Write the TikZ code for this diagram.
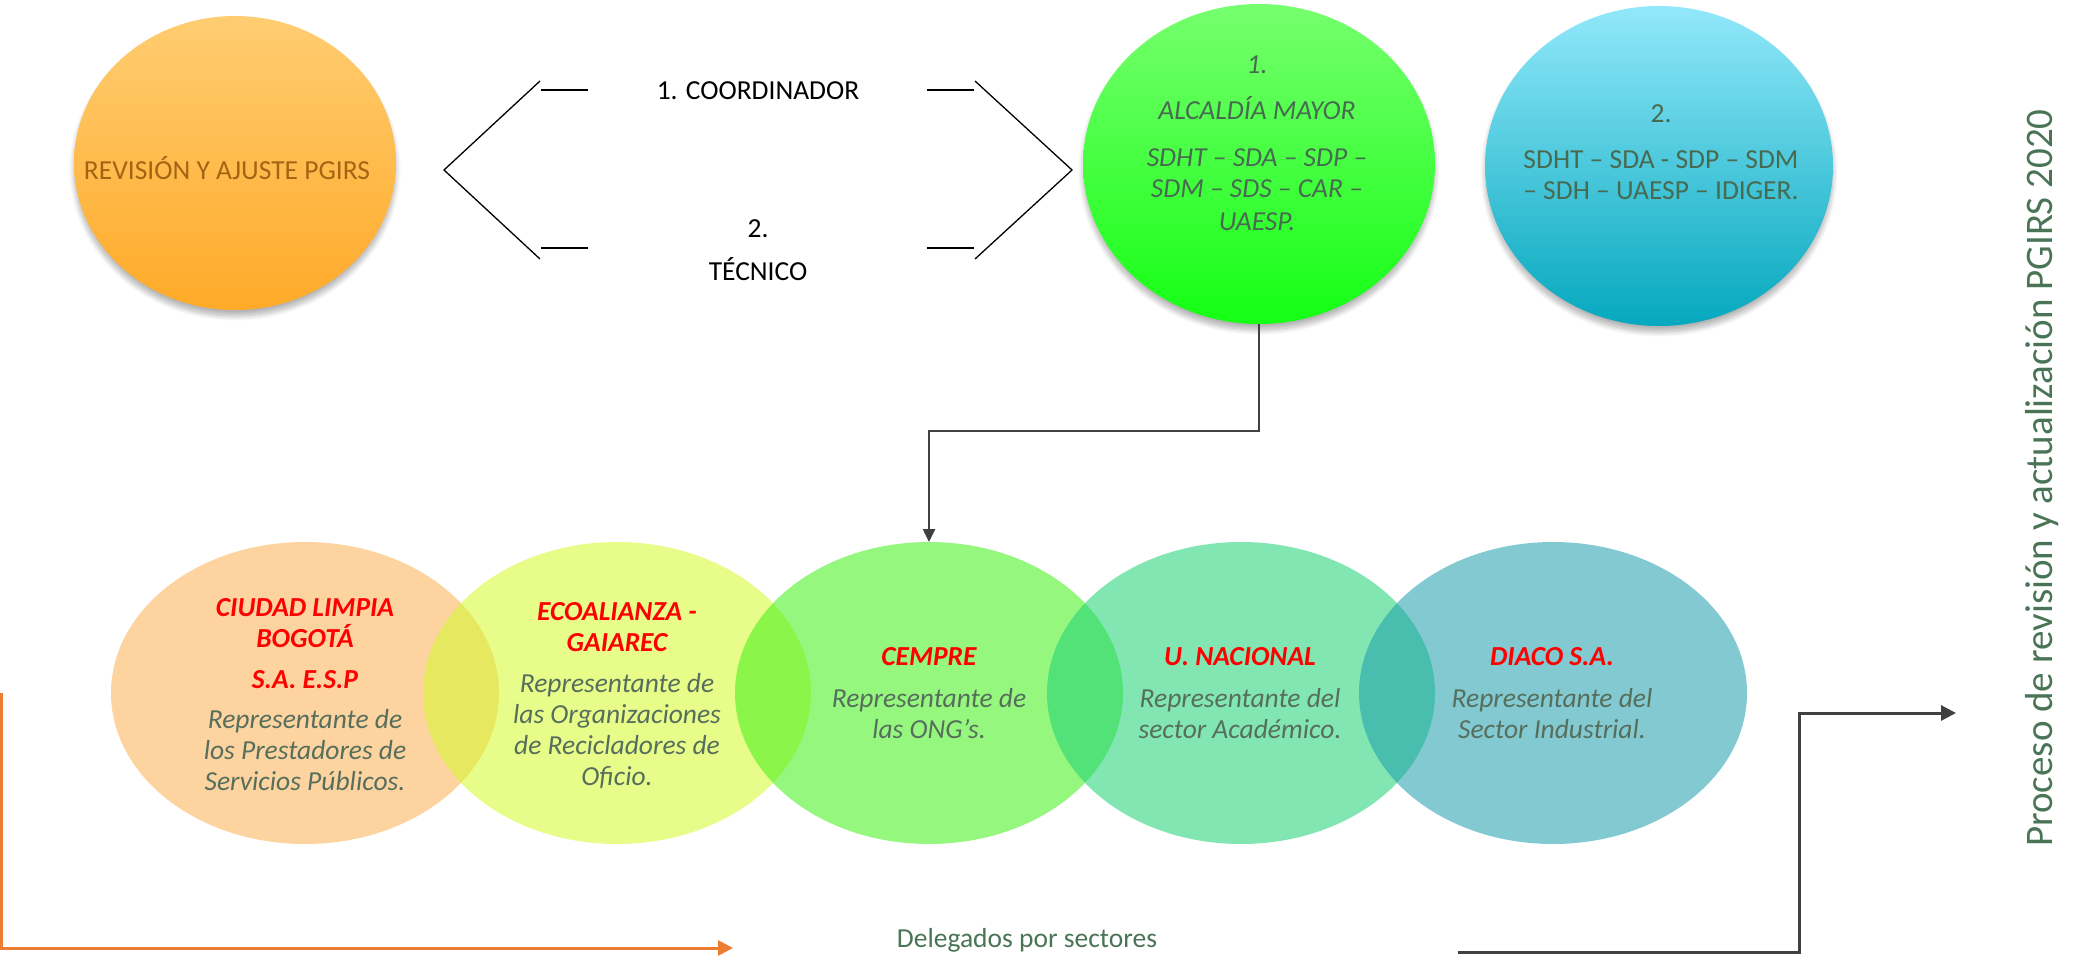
\documentclass[tikz,border=0pt]{standalone}
\usepackage{fontspec}
\setmainfont{Carlito}
\usetikzlibrary{shapes.geometric,arrows.meta,shadows.blur}
\definecolor{orT}{RGB}{255,205,114}
\definecolor{orB}{RGB}{255,170,40}
\definecolor{grT}{RGB}{118,255,110}
\definecolor{grB}{RGB}{20,255,20}
\definecolor{blT}{RGB}{146,232,250}
\definecolor{blB}{RGB}{5,168,190}
\definecolor{b1}{RGB}{251,175,82}
\definecolor{b2}{RGB}{213,250,42}
\definecolor{b3}{RGB}{64,240,20}
\definecolor{b4}{RGB}{28,210,115}
\definecolor{b5}{RGB}{28,157,171}
\definecolor{revcol}{RGB}{165,100,20}
\definecolor{topcol}{RGB}{72,106,80}
\definecolor{bodycol}{RGB}{86,110,92}
\definecolor{delcol}{RGB}{74,116,86}
\definecolor{titlered}{RGB}{255,0,0}
\definecolor{darkline}{RGB}{64,64,64}
\definecolor{orline}{RGB}{237,125,49}
\newcommand\ttl[1]{\textcolor{titlered}{\bfseries #1}}
\begin{document}
\begin{tikzpicture}[x=1pt,y=-1pt,
  topell/.style={ellipse, inner sep=0pt, outer sep=0pt, draw=none,
    blur shadow={shadow xshift=0pt, shadow yshift=-6pt, shadow blur radius=5pt, shadow blur steps=10, shadow opacity=30}},
  botell/.style={ellipse, inner sep=0pt, outer sep=0pt, draw=none,
    minimum width=388pt, minimum height=302pt, fill opacity=0.55},
  txt/.style={font=\fontsize{27.5}{31}\selectfont, align=center, inner sep=0pt},
  ittxt/.style={font=\fontsize{27.5}{31}\selectfont\itshape, align=center, inner sep=0pt},
  bracket/.style={line width=1.3pt, black},
  conn/.style={line width=2.5pt, darkline, -{Triangle[length=13pt,width=12pt]}},
  bigarrow/.style={line width=3pt, -{Triangle[length=15pt,width=15pt]}}
]
\useasboundingbox (0,0) rectangle (2075,959);

% top ellipses
\node[topell, minimum width=322pt, minimum height=294pt, top color=orT, bottom color=orB] (rev) at (235,163) {};
\node[topell, minimum width=352pt, minimum height=320pt, top color=grT, bottom color=grB] (alc) at (1259,164) {};
\node[topell, minimum width=348pt, minimum height=320pt, top color=blT, bottom color=blB] (tec) at (1659,166) {};

\node[txt, anchor=base, text=revcol] (revt) at (227,179) {REVISIÓN Y AJUSTE PGIRS};
\node[ittxt, anchor=north, text=topcol] (alct) at (1257,56)
  {1.\\[15pt] ALCALDÍA MAYOR\\[16pt] SDHT – SDA – SDP –\\ SDM – SDS – CAR –\\[2pt] UAESP.};
\node[txt, anchor=north, text=topcol] (tect) at (1661,104)
  {2.\\[15pt] SDHT – SDA - SDP – SDM\\ – SDH – UAESP – IDIGER.};

% brackets
\draw[bracket] (540,81) -- (444,170) -- (540,259);
\draw[bracket] (541,90) -- (588,90);
\draw[bracket] (541,248) -- (588,248);
\draw[bracket] (927,90) -- (974,90);
\draw[bracket] (927,248) -- (974,248);
\draw[bracket] (975,81) -- (1072,170) -- (975,259);
\node[txt, anchor=base] (coord) at (758,99) {1. COORDINADOR};
\node[txt, anchor=north] (tecn) at (758,219) {2.\\[12pt] TÉCNICO};

% bottom ellipses
\node[botell, fill=b1] (ciudad) at (305,693) {};
\node[botell, fill=b2] (ecoal) at (617,693) {};
\node[botell, fill=b3] (cempre) at (929,693) {};
\node[botell, fill=b4] (unal) at (1241,693) {};
\node[botell, fill=b5] (diaco) at (1553,693) {};

\node[ittxt, anchor=north, text=bodycol] (ciudadt) at (305,598)
  {\ttl{CIUDAD LIMPIA}\\ \ttl{BOGOTÁ}\\[10pt] \ttl{S.A. E.S.P}\\[9pt] Representante de\\ los Prestadores de\\ Servicios Públicos.};
\node[ittxt, anchor=north, text=bodycol] (ecoalt) at (617,602)
  {\ttl{ECOALIANZA -}\\ \ttl{GAIAREC}\\[10.5pt] Representante de\\ las Organizaciones\\ de Recicladores de\\ Oficio.};
\node[ittxt, anchor=north, text=bodycol] (cempret) at (929,647)
  {\ttl{CEMPRE}\\[11pt] Representante de\\ las ONG's.};
\node[ittxt, anchor=north, text=bodycol] (unalt) at (1240,647)
  {\ttl{U. NACIONAL}\\[11pt] Representante del\\ sector Académico.};
\node[ittxt, anchor=north, text=bodycol] (diacot) at (1552,647)
  {\ttl{DIACO S.A.}\\[11pt] Representante del\\ Sector Industrial.};

% connector from Alcaldia to CEMPRE
\draw[conn] (alc.south) -- ++(0,107) -| (cempre.north);

% delegados
\node[txt, anchor=base, text=delcol] (deleg) at (1027,947) {Delegados por sectores};
\coordinate (orS) at (1,693);
\coordinate (orE) at (733,948);
\draw[bigarrow, orline] (orS) |- (orE);
\coordinate (dkS) at (1458,952);
\coordinate (dkE) at (1956,713);
\draw[bigarrow, darkline] (dkS) -- ++(341,0) |- (dkE);

% vertical title
\node[anchor=base, rotate=90, inner sep=0pt, font=\fontsize{39}{43}\selectfont, text=delcol] (proc) at (2052,478)
  {Proceso de revisión y actualización PGIRS 2020};
\end{tikzpicture}
\end{document}
